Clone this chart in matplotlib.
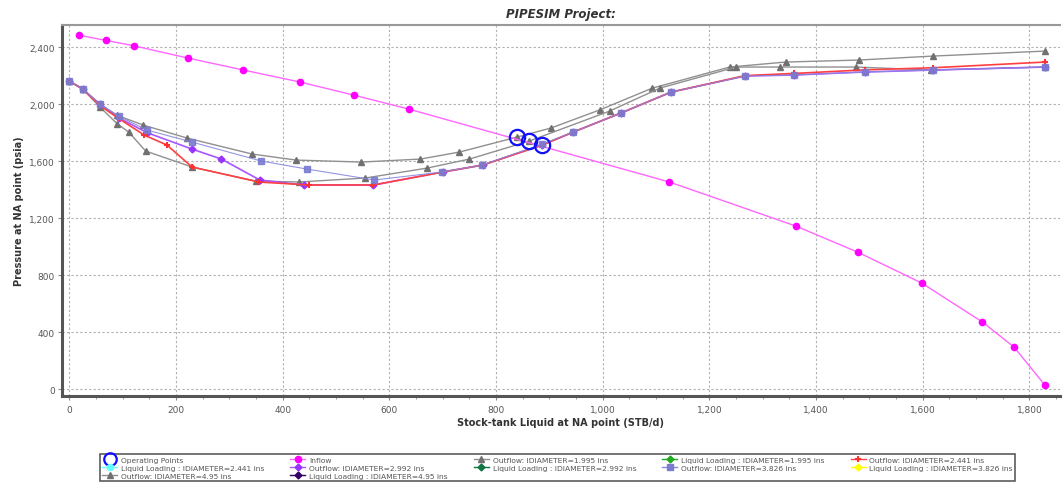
import matplotlib
matplotlib.use("Agg")
import matplotlib.pyplot as plt
from matplotlib.lines import Line2D
from matplotlib.ticker import FuncFormatter, MultipleLocator

# Inflow performance curve
inflow_q = [17, 68, 121, 222, 326, 432, 533, 636, 1125, 1362, 1478, 1598, 1712, 1771, 1829]
inflow_p = [2484, 2447, 2409, 2323, 2239, 2155, 2063, 1965, 1453, 1144, 961, 744, 470, 295, 28]

# Outflow curves by tubing inner diameter
out_1995_q = [0, 25, 57, 90, 138, 221, 343, 425, 547, 658, 731, 839, 903, 995, 1093, 1238, 1343, 1480, 1620, 1830]
out_1995_p = [2161, 2105, 2000, 1920, 1853, 1761, 1649, 1607, 1593, 1614, 1663, 1768, 1832, 1960, 2112, 2260, 2295, 2309, 2337, 2372]

out_2441_q = [0, 25, 57, 92, 140, 183, 230, 355, 449, 570, 700, 775, 886, 945, 1034, 1128, 1267, 1358, 1491, 1620, 1830]
out_2441_p = [2161, 2105, 1990, 1900, 1783, 1712, 1558, 1453, 1432, 1432, 1523, 1572, 1712, 1804, 1937, 2084, 2200, 2215, 2240, 2255, 2295]

out_2992_q = [0, 25, 57, 92, 145, 230, 285, 357, 440, 570, 700, 775, 886, 945, 1034, 1128, 1267, 1358, 1491, 1620, 1830]
out_2992_p = [2161, 2105, 2000, 1905, 1800, 1684, 1614, 1467, 1432, 1432, 1523, 1572, 1712, 1804, 1937, 2084, 2197, 2204, 2225, 2239, 2260]

out_3826_q = [0, 25, 57, 92, 145, 230, 360, 445, 572, 698, 774, 887, 945, 1034, 1128, 1267, 1358, 1491, 1620, 1830]
out_3826_p = [2161, 2105, 2000, 1916, 1818, 1733, 1600, 1544, 1467, 1523, 1572, 1720, 1804, 1937, 2084, 2197, 2204, 2225, 2239, 2260]

out_495_q = [0, 25, 57, 90, 111, 143, 230, 349, 430, 555, 671, 750, 862, 1013, 1107, 1250, 1333, 1474, 1615, 1830]
out_495_p = [2161, 2105, 1980, 1860, 1804, 1670, 1558, 1460, 1453, 1481, 1551, 1614, 1740, 1951, 2112, 2260, 2260, 2260, 2239, 2260]

# Operating points (inflow / outflow intersections)
op_q = [839, 862, 886]
op_p = [1768, 1740, 1712]

x_ticks = [0, 200, 400, 600, 800, 1000, 1200, 1400, 1600, 1800]
y_ticks = [0, 400, 800, 1200, 1600, 2000, 2400]

fig = plt.figure(figsize=(10.63, 4.85), dpi=100)
ax = fig.add_axes([0.0583, 0.1814, 0.9387, 0.765])

ax.set_xlim(-14, 1857)
ax.set_ylim(-49, 2555)

grid_kw = dict(color="#b0b0b0", linestyle=(0, (2, 2)), linewidth=0.8)
ax.set_xticks(x_ticks)
ax.set_yticks(y_ticks)
ax.xaxis.set_minor_locator(MultipleLocator(50))
ax.grid(True, which="major", **grid_kw)
ax.set_axisbelow(True)

fmt = FuncFormatter(lambda v, pos: f"{int(v):,}")
ax.xaxis.set_major_formatter(fmt)
ax.yaxis.set_major_formatter(fmt)
ax.tick_params(axis="both", which="major", labelsize=6.5, labelcolor="#555555",
               color="#888888", length=3, width=0.8, direction="out")
ax.tick_params(axis="x", which="minor", length=2, color="#888888", width=0.6)
ax.tick_params(axis="y", pad=2)

for side in ("left", "bottom"):
    ax.spines[side].set_linewidth(2.2)
    ax.spines[side].set_color("#555555")
ax.spines["top"].set_linewidth(1.5)
ax.spines["top"].set_color("#999999")
ax.spines["right"].set_visible(False)

# Inflow
ax.plot(inflow_q, inflow_p, color="#ff66ff", linewidth=1.0, marker="o",
        markersize=4.5, markerfacecolor="#ff00ff", markeredgecolor="#ff00ff", zorder=4)

# Outflow curves
ax.plot(out_1995_q, out_1995_p, color="#909090", linewidth=1.0, marker="^",
        markersize=4.5, markerfacecolor="#707070", markeredgecolor="#707070", zorder=3)
ax.plot(out_495_q, out_495_p, color="#909090", linewidth=1.0, marker="^",
        markersize=4.5, markerfacecolor="#707070", markeredgecolor="#707070", zorder=3)
ax.plot(out_2992_q, out_2992_p, color="#aa55ff", linewidth=1.2, marker="D",
        markersize=3.5, markerfacecolor="#9933ff", markeredgecolor="#9933ff", zorder=4)
ax.plot(out_2441_q, out_2441_p, color="#ff4040", linewidth=1.2, marker="+",
        markersize=5, markeredgewidth=1.5, markeredgecolor="#ff3030", zorder=5)
ax.plot(out_3826_q, out_3826_p, color="#8888e0", linewidth=0.8, marker="s",
        markersize=4.5, markerfacecolor="#7b7bd0", markeredgecolor="#7b7bd0",
        alpha=0.9, zorder=5.5)

# Operating points
ax.plot(op_q, op_p, linestyle="none", marker="o", markersize=11,
        markerfacecolor="none", markeredgecolor="#1010ff", markeredgewidth=1.6, zorder=6)

ax.set_title("PIPESIM Project:", fontsize=8.5, fontweight="bold", fontstyle="italic",
             color="#333333", pad=6)
ax.set_xlabel("Stock-tank Liquid at NA point (STB/d)", fontsize=7, fontweight="bold",
              color="#333333", labelpad=2)
ax.set_ylabel("Pressure at NA point (psia)", fontsize=7, fontweight="bold",
              color="#333333", labelpad=4)

# Legend, five columns filled row by row
def entry(color, marker, mfc=None, ms=4.5, lw=1.0, lc=None, mew=1.0):
    return Line2D([], [], color=lc or color, linewidth=lw, marker=marker, markersize=ms,
                  markerfacecolor=mfc or color, markeredgecolor=mfc or color,
                  markeredgewidth=mew)

op_handle = Line2D([], [], linestyle="none", marker="o", markersize=9,
                   markerfacecolor="none", markeredgecolor="#1010ff", markeredgewidth=1.6)
items = [
    (op_handle, "Operating Points"),
    (entry("#66ffff", "o"), "Liquid Loading : IDIAMETER=2.441 ins"),
    (entry("#707070", "^", lc="#909090"), "Outflow: IDIAMETER=4.95 ins"),
    (entry("#ff00ff", "o", lc="#ff66ff"), "Inflow"),
    (entry("#9933ff", "D", ms=3.5, lc="#aa55ff"), "Outflow: IDIAMETER=2.992 ins"),
    (entry("#330066", "D", ms=3.5), "Liquid Loading : IDIAMETER=4.95 ins"),
    (entry("#707070", "^", lc="#909090"), "Outflow: IDIAMETER=1.995 ins"),
    (entry("#117744", "D", ms=3.5), "Liquid Loading : IDIAMETER=2.992 ins"),
    (entry("#22aa22", "D", ms=3.5), "Liquid Loading : IDIAMETER=1.995 ins"),
    (entry("#7b7bd0", "s", lc="#8888e0"), "Outflow: IDIAMETER=3.826 ins"),
    (entry("#ff3030", "+", ms=5, lc="#ff4040", mew=1.5), "Outflow: IDIAMETER=2.441 ins"),
    (entry("#ffff00", "D", ms=3.5), "Liquid Loading : IDIAMETER=3.826 ins"),
]
leg = fig.legend([h for h, _ in items], [t for _, t in items], ncol=5,
                 loc="lower left", bbox_to_anchor=(0.094, 0.006, 0.861, 0.083),
                 mode="expand", fontsize=5.4, frameon=True, fancybox=False,
                 shadow=False, handlelength=2.0, handletextpad=0.5,
                 columnspacing=0.8, labelspacing=0.25, borderpad=0.3,
                 borderaxespad=0.0)
frame = leg.get_frame()
frame.set_edgecolor("#333333")
frame.set_linewidth(1.2)
for t in leg.get_texts():
    t.set_color("#555555")

fig.savefig("out.png", dpi=100, facecolor="white")
